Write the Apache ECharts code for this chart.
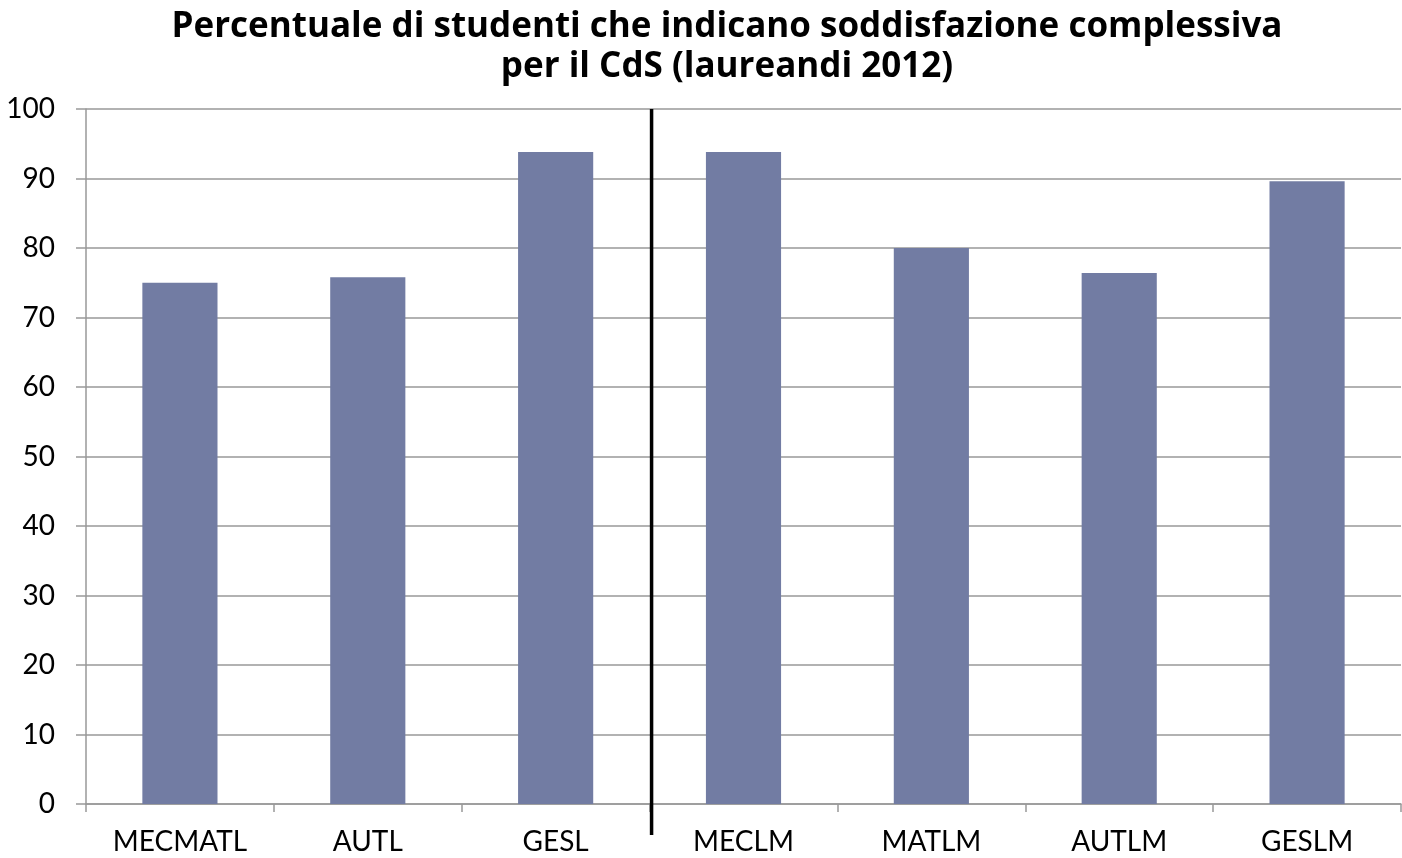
<!DOCTYPE html>
<html><head><meta charset="utf-8">
<script src="https://cdn.jsdelivr.net/npm/echarts@6/dist/echarts.min.js"></script>
<style>html,body{margin:0;padding:0;background:#fff}#c{width:1402px;height:858px}</style>
</head><body><div id="c"></div>
<script>
const categories = ['MECMATL','AUTL','GESL','MECLM','MATLM','AUTLM','GESLM'];
const values = [75.0, 75.8, 93.8, 93.8, 80.0, 76.4, 89.6];
const yTicks = [0,10,20,30,40,50,60,70,80,90,100];
const titleLines = ['Percentuale di studenti che indicano soddisfazione complessiva','per il CdS (laureandi 2012)'];
const FONT = 'Lato';
const chart = echarts.init(document.getElementById('c'));
chart.setOption({
  animation:false,
  title:{text:titleLines.join('\n'),left:722,textAlign:'center',top:2,textStyle:{fontFamily:'Open Sans',fontWeight:'bold',fontSize:35,color:'#000',lineHeight:40}},
  grid:{left:86,right:1,top:109,bottom:54,containLabel:false},
  xAxis:{type:'category',data:categories,
    axisLine:{lineStyle:{color:'#999',width:1.5}},
    axisTick:{show:true,length:8,alignWithLabel:false,lineStyle:{color:'#999',width:1.5}},
    axisLabel:{fontFamily:FONT,fontSize:28,color:'#000',margin:24}},
  yAxis:{type:'value',min:0,max:100,interval:10,
    axisLine:{show:true,lineStyle:{color:'#999',width:1.5}},
    axisTick:{show:true,length:10,lineStyle:{color:'#999',width:1.5}},
    splitLine:{lineStyle:{color:'#999',width:1.5}},
    axisLabel:{fontFamily:FONT,fontSize:28,color:'#000',margin:31,formatter:v=>yTicks.includes(v)?String(v):''}},
  series:[{type:'bar',data:values,barWidth:'40%',itemStyle:{color:'#727CA3'}}]
});
function drawDivider(){
  const xa = chart.convertToPixel({xAxisIndex:0}, categories[2]);
  const xb = chart.convertToPixel({xAxisIndex:0}, categories[3]);
  const x = (xa+xb)/2 + 2;
  const yTop = chart.convertToPixel({yAxisIndex:0}, 100);
  const yBot = chart.convertToPixel({yAxisIndex:0}, 0) + 31;
  chart.setOption({graphic:[{type:'line',shape:{x1:x,y1:yTop,x2:x,y2:yBot},style:{stroke:'#000',lineWidth:3.5},z:10}]});
}
drawDivider();
</script></body></html>
